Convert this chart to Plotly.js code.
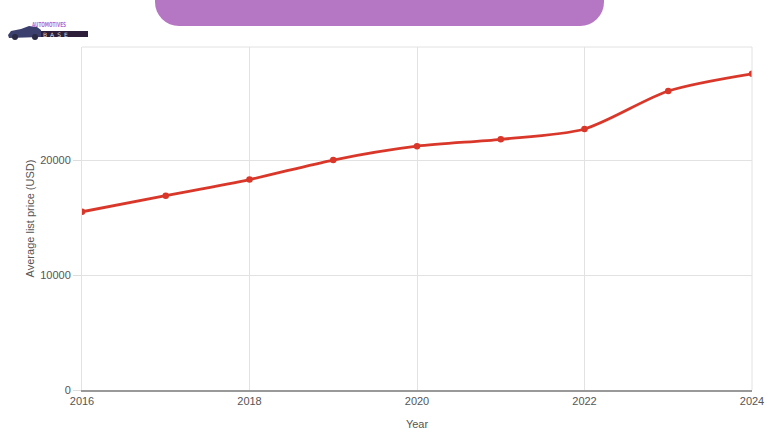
<!DOCTYPE html>
<html><head><meta charset="utf-8">
<script src="https://cdn.plot.ly/plotly-3.0.1.min.js"></script>
<style>
html,body{margin:0;padding:0;background:#fff;}
#chart{width:780px;height:440px;position:relative;}
#banner{position:absolute;left:155px;top:-30px;width:449px;height:56px;background:#b576c4;border-radius:0 0 24px 24px;z-index:5;}
#logo{position:absolute;left:7px;top:20px;z-index:5;}
</style></head><body>
<div id="chart"></div>
<div id="banner"></div>
<div id="logo">
 <svg width="84" height="22">
  <path d="M1 15 L4 11 L14 9 L22 6 L30 7 L34 10 L34 17 L2 18 Z" fill="#3b3f6e"/>
  <circle cx="8" cy="17" r="3" fill="#2a2a44"/><circle cx="28" cy="17" r="3" fill="#2a2a44"/>
  <text x="25" y="7" font-size="7" font-weight="bold" fill="#b06fcf" font-family="DejaVu Sans Condensed" textLength="34" lengthAdjust="spacingAndGlyphs">AUTOMOTIVES</text>
  <rect x="34" y="11" width="47" height="6" fill="#2d1f3a"/>
  <text x="36" y="17" font-size="6" fill="#ddd" letter-spacing="3" font-family="DejaVu Sans">BASE</text>
 </svg>
</div>
<script>
const years = [2016, 2017, 2018, 2019, 2020, 2021, 2022, 2023, 2024];
const prices = [15500, 16900, 18300, 20000, 21200, 21800, 22700, 26000, 27500];
const xTicks = [2016, 2018, 2020, 2022, 2024];
const yTicks = [0, 10000, 20000];

const trace = {
  x: years, y: prices, type: 'scatter', mode: 'lines+markers',
  line: {color: '#d9372a', width: 2.8, shape: 'spline', smoothing: 0.8},
  marker: {color: '#d9372a', size: 6.5},
  hoverinfo: 'x+y'
};
const layout = {
  width: 780, height: 440,
  margin: {l: 82, r: 28, t: 47, b: 50},
  paper_bgcolor: '#fff', plot_bgcolor: '#fff',
  font: {family: 'Arial, "Liberation Sans", sans-serif', size: 11, color: '#444'},
  showlegend: false,
  xaxis: {
    range: [2016, 2024], tickvals: xTicks, ticktext: xTicks.map(String),
    showgrid: true, gridcolor: '#e2e2e2', zeroline: false,
    showline: true, linecolor: '#999', linewidth: 2, ticks: '',
    title: {text: 'Year', font: {size: 11, color: '#555'}, standoff: 14},
    tickfont: {size: 11, color: '#555'}
  },
  yaxis: {
    range: [0, 29830], tickvals: yTicks, ticktext: yTicks.map(String),
    showgrid: true, gridcolor: '#e2e2e2', zeroline: false,
    showline: true, linecolor: '#e2e2e2', ticks: 'outside', ticklen: 8, tickcolor: '#ddd',
    title: {text: 'Average list price (USD)', font: {size: 11, color: '#555'}, standoff: 3},
    tickfont: {size: 11, color: '#555'}
  },
  shapes: [
    {type: 'line', xref: 'paper', yref: 'paper', x0: 0, x1: 1, y0: 1, y1: 1, line: {color: '#e2e2e2', width: 1}},
    {type: 'line', xref: 'paper', yref: 'paper', x0: 1, x1: 1, y0: 0, y1: 1, line: {color: '#e2e2e2', width: 1}}
  ]
};
Plotly.newPlot('chart', [trace], layout, {displayModeBar: false, staticPlot: true});
</script>
</body></html>
